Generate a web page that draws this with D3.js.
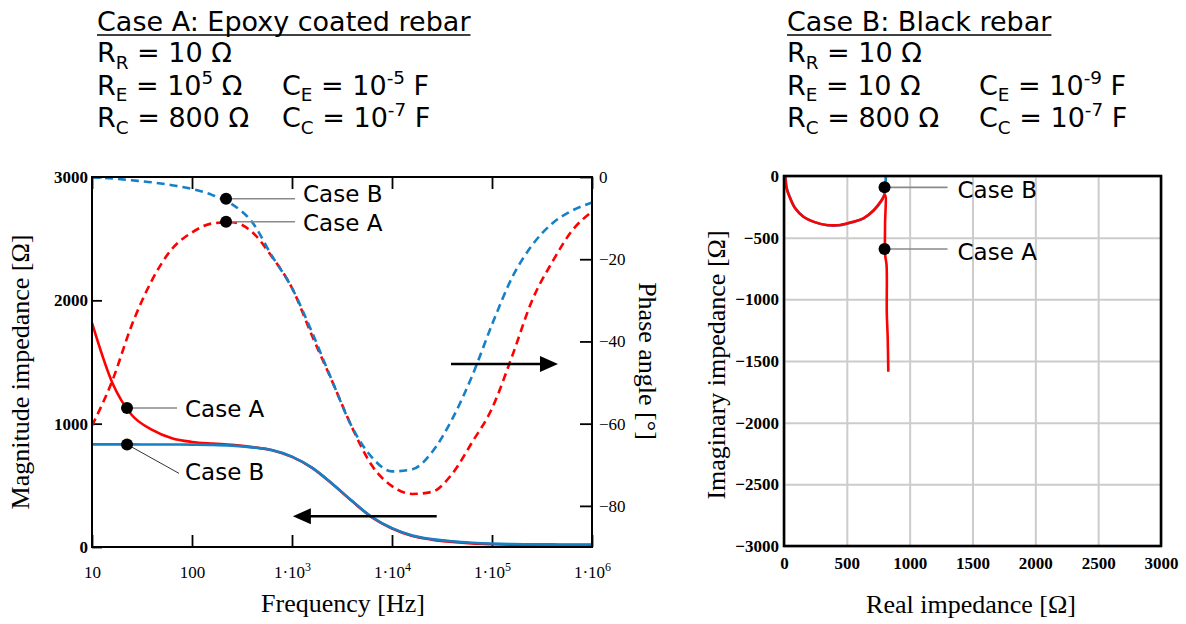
<!DOCTYPE html>
<html>
<head>
<meta charset="utf-8">
<script src="https://cdn.jsdelivr.net/npm/d3@7"></script>
<style>
body { margin: 0; background: #fff; }
</style>
</head>
<body>
<svg width="1186" height="624"></svg>
<script>
const red = "#ff0000";
const blue = "#1580c6";
const serif = "'Liberation Serif', 'Times New Roman', serif";
const sans = "'DejaVu Sans', Verdana, sans-serif";

// header texts
const titles = ["Case A: Epoxy coated rebar", "Case B: Black rebar"];
const paramsA = [
  [[["R"], ["R", "sub"], [" = 10 Ω"]]],
  [[["R"], ["E", "sub"], [" = 10"], ["5", "sup"], [" Ω"]], [["C"], ["E", "sub"], [" = 10"], ["-5", "sup"], [" F"]]],
  [[["R"], ["C", "sub"], [" = 800 Ω"]], [["C"], ["C", "sub"], [" = 10"], ["-7", "sup"], [" F"]]]
];
const paramsB = [
  [[["R"], ["R", "sub"], [" = 10 Ω"]]],
  [[["R"], ["E", "sub"], [" = 10 Ω"]], [["C"], ["E", "sub"], [" = 10"], ["-9", "sup"], [" F"]]],
  [[["R"], ["C", "sub"], [" = 800 Ω"]], [["C"], ["C", "sub"], [" = 10"], ["-7", "sup"], [" F"]]]
];

// Bode data
const freq = [10, 16, 25, 40, 63, 100, 160, 250, 400, 630, 1e3, 1.6e3, 2.5e3, 4e3, 6.3e3,
              1e4, 1.6e4, 2.5e4, 4e4, 6.3e4, 1e5, 1.6e5, 2.5e5, 4e5, 6.3e5, 1e6];
const magA = [1817, 1330, 1070, 950, 882, 852, 838, 828, 810, 785, 731, 640, 515, 370, 240,
              150, 90, 60, 40, 28, 22, 18, 16, 15, 15, 15];
const magB = [832, 832, 832, 831, 831, 830, 828, 822, 808, 786, 733, 642, 517, 372, 243,
              153, 94, 64, 46, 35, 28, 24, 22, 21, 20, 20];
const phaseA = [-60.5, -49.5, -36, -25, -17.5, -13.5, -11.3, -11.0, -13.4, -19.4, -27.0, -38.8, -49.5, -61.0, -70.2,
                -75.2, -77.1, -76.6, -72.2, -64.6, -56.3, -43.4, -30.2, -20.7, -13.1, -8.4];
const phaseB = [-0.1, -0.35, -0.8, -1.3, -2.0, -2.9, -4.4, -6.6, -11.0, -19.2, -27.0, -38.0, -49.4, -60.9, -68.2,
                -71.6, -71.1, -67.0, -58.9, -48.5, -35.9, -24.3, -16.7, -11.3, -8.2, -6.2];
const freqTicks = [10, 100, 1e3, 1e4, 1e5, 1e6];
const magTicks = [0, 1000, 2000, 3000];
const phaseTicks = [0, -20, -40, -60, -80];

// Nyquist data
const reA = [10, 20, 48, 88, 154, 233, 340, 446, 551, 631, 711, 777, 804, 804, 805, 816, 818, 825, 830];
const imA = [0, -100, -181, -262, -330, -370, -397, -397, -370, -343, -280, -195, -154, -400, -640, -720, -1113, -1303, -1587];
const reB = [12, 23, 52, 92, 158, 236, 342, 448, 553, 634, 714, 779, 800, 808, 810];
const imB = [0, -100, -182, -264, -332, -372, -399, -399, -372, -344, -281, -198, -140, -60, 0];
const nyqXTicks = [0, 500, 1000, 1500, 2000, 2500, 3000];
const nyqYTicks = [0, -500, -1000, -1500, -2000, -2500, -3000];

// annotation anchors (data units)
const markFreq = 219;
const markFreqLow = 22.4;
const arrowMag = 250, arrowMagFrom = 28000, arrowMagTo = 1020;
const arrowPh = -45.5, arrowPhFrom = 38900, arrowPhTo = 457000;
const nyqMarkRe = 800, nyqMarkB = -92, nyqMarkA = -592;

const svg = d3.select("svg");
const minus = d => d < 0 ? "−" + (-d) : String(d);

function rich(x, y, parts, size) {
  const t = svg.append("text").attr("x", x).attr("y", y)
    .attr("font-family", sans).attr("font-size", size);
  let shift = 0;
  parts.forEach(([s, k]) => {
    const off = k === "sub" ? 0.25 * size : k === "sup" ? -0.4 * size : 0;
    t.append("tspan").attr("dy", off - shift).attr("font-size", k ? size * 0.68 : size).text(s);
    shift = off;
  });
  return t;
}

function header(x, x2, title, params) {
  const t = rich(x, 31, [[title]], 27);
  const w = t.node().getComputedTextLength();
  svg.append("line").attr("x1", x).attr("x2", x + w).attr("y1", 35).attr("y2", 35)
    .attr("stroke", "#000").attr("stroke-width", 1.6);
  params.forEach((row, i) => {
    const y = 62 + i * 32.5;
    row.forEach((p, j) => rich(j ? x2 : x, y, p, 27));
  });
}
header(97, 282, titles[0], paramsA);
header(787, 979, titles[1], paramsB);

// ---------- Bode plot ----------
const xF = d3.scaleLog().domain([10, 1e6]).range([92, 592]);
const yMag = d3.scaleLinear().domain([0, 3000]).range([547, 177]);
const yPh = d3.scaleLinear().domain([-90, 0]).range([547, 177]);

function styleAxis(g, size, weight) {
  g.select(".domain").remove();
  g.selectAll(".tick line").attr("stroke", "#000").attr("stroke-width", 1.8);
  g.selectAll(".tick text").attr("fill", "#000").attr("font-family", serif)
    .attr("font-size", size).attr("font-weight", weight);
}

const gBottom = svg.append("g").attr("transform", "translate(0,547)")
  .call(d3.axisBottom(xF).tickValues(freqTicks).tickSize(-12).tickPadding(19));
styleAxis(gBottom, 17, "normal");
gBottom.selectAll(".tick text").each(function(d) {
  const t = d3.select(this);
  t.text(null);
  const e = Math.round(Math.log10(d));
  if (e < 3) {
    t.append("tspan").text(String(d));
  } else {
    t.append("tspan").text("1·10");
    t.append("tspan").attr("dy", "-0.55em").attr("font-size", 12).text(e);
  }
});
const gTop = svg.append("g").attr("transform", "translate(0,177)")
  .call(d3.axisTop(xF).tickValues(freqTicks).tickSize(-12).tickFormat(""));
styleAxis(gTop, 17, "normal");
const gLeft = svg.append("g").attr("transform", "translate(92,0)")
  .call(d3.axisLeft(yMag).tickValues(magTicks).tickSize(-10).tickPadding(4).tickFormat(d3.format("d")));
styleAxis(gLeft, 17, "bold");
const gRight = svg.append("g").attr("transform", "translate(592,0)")
  .call(d3.axisRight(yPh).tickValues(phaseTicks).tickSize(-12).tickPadding(7).tickFormat(minus));
styleAxis(gRight, 17, "normal");

const magLine = d3.line().x((d, i) => xF(freq[i])).y(d => yMag(d)).curve(d3.curveMonotoneX);
const phLine = d3.line().x((d, i) => xF(freq[i])).y(d => yPh(d)).curve(d3.curveMonotoneX);

svg.append("path").attr("d", phLine(phaseA)).attr("fill", "none").attr("stroke", red)
  .attr("stroke-width", 2.6).attr("stroke-dasharray", "8,5");
svg.append("path").attr("d", phLine(phaseB)).attr("fill", "none").attr("stroke", blue)
  .attr("stroke-width", 2.6).attr("stroke-dasharray", "8,5");
svg.append("path").attr("d", magLine(magA)).attr("fill", "none").attr("stroke", red).attr("stroke-width", 2.6);
svg.append("path").attr("d", magLine(magB)).attr("fill", "none").attr("stroke", blue).attr("stroke-width", 2.6);

svg.append("rect").attr("x", 92).attr("y", 177).attr("width", 500).attr("height", 370)
  .attr("fill", "none").attr("stroke", "#000").attr("stroke-width", 2);

// arrows
function arrow(x1, x2, y) {
  const dir = Math.sign(x2 - x1);
  svg.append("line").attr("x1", x1).attr("x2", x2 - dir * 14).attr("y1", y).attr("y2", y)
    .attr("stroke", "#000").attr("stroke-width", 2.5);
  svg.append("path")
    .attr("d", `M${x2},${y}L${x2 - dir * 18},${y - 8}L${x2 - dir * 18},${y + 8}Z`)
    .attr("fill", "#000");
}
arrow(xF(arrowMagFrom), xF(arrowMagTo), yMag(arrowMag));
arrow(xF(arrowPhFrom), xF(arrowPhTo), yPh(arrowPh));

// annotations
function label(px, py, lx, ly, tx, ty, text, color, lw) {
  svg.append("line").attr("x1", px).attr("y1", py).attr("x2", lx).attr("y2", ly)
    .attr("stroke", color).attr("stroke-width", lw);
  svg.append("circle").attr("cx", px).attr("cy", py).attr("r", 6).attr("fill", "#000");
  svg.append("text").attr("x", tx).attr("y", ty).attr("font-family", sans)
    .attr("font-size", 23).attr("fill", "#000").text(text);
}
const phBAtMark = -5.3, phAAtMark = -10.9, magAAtMark = 1127, magBAtMark = 832;
let px = xF(markFreq);
label(px, yPh(phBAtMark), px + 69, yPh(phBAtMark), px + 77, yPh(phBAtMark) + 3, "Case B", "#8a8a8a", 1.6);
label(px, yPh(phAAtMark), px + 69, yPh(phAAtMark), px + 77, yPh(phAAtMark) + 9, "Case A", "#8a8a8a", 1.6);
px = xF(markFreqLow);
label(px, yMag(magAAtMark), px + 50, yMag(magAAtMark), px + 58, yMag(magAAtMark) + 9, "Case A", "#8a8a8a", 1.6);
label(px, yMag(magBAtMark), px + 52, yMag(magBAtMark) + 29, px + 58, yMag(magBAtMark) + 36, "Case B", "#333", 1);

// axis titles
svg.append("text").attr("transform", "translate(343,612)").attr("text-anchor", "middle")
  .attr("font-family", serif).attr("font-size", 26).text("Frequency [Hz]");
svg.append("text").attr("transform", "translate(29,372) rotate(-90)").attr("text-anchor", "middle")
  .attr("font-family", serif).attr("font-size", 26).text("Magnitude impedance [Ω]");
svg.append("text").attr("transform", "translate(639,361) rotate(90)").attr("text-anchor", "middle")
  .attr("font-family", serif).attr("font-size", 26).text("Phase angle [°]");

// ---------- Nyquist plot ----------
const xRe = d3.scaleLinear().domain([0, 3000]).range([784, 1161]);
const yIm = d3.scaleLinear().domain([-3000, 0]).range([546, 176]);

const gnx = svg.append("g").attr("transform", "translate(0,546)")
  .call(d3.axisBottom(xRe).tickValues(nyqXTicks).tickSize(-370).tickPadding(11).tickFormat(d3.format("d")));
styleAxis(gnx, 17, "bold");
gnx.selectAll(".tick line").attr("stroke", "#cccccc").attr("stroke-width", 2);
const gny = svg.append("g").attr("transform", "translate(784,0)")
  .call(d3.axisLeft(yIm).tickValues(nyqYTicks).tickSize(-377).tickPadding(5).tickFormat(minus));
styleAxis(gny, 17, "bold");
gny.selectAll(".tick line").attr("stroke", "#cccccc").attr("stroke-width", 2);

const nyqLine = d3.line().x(d => xRe(d[0])).y(d => yIm(d[1])).curve(d3.curveCatmullRom.alpha(0.5));
svg.append("path").attr("d", nyqLine(reB.map((r, i) => [r, imB[i]])))
  .attr("fill", "none").attr("stroke", blue).attr("stroke-width", 2.6);
svg.append("path").attr("d", nyqLine(reA.map((r, i) => [r, imA[i]])))
  .attr("fill", "none").attr("stroke", red).attr("stroke-width", 2.6);

svg.append("rect").attr("x", 784).attr("y", 176).attr("width", 377).attr("height", 370)
  .attr("fill", "none").attr("stroke", "#000").attr("stroke-width", 2.6);

const nx = xRe(nyqMarkRe);
label(nx, yIm(nyqMarkB), nx + 63, yIm(nyqMarkB), nx + 73, yIm(nyqMarkB) + 11, "Case B", "#8a8a8a", 1.6);
label(nx, yIm(nyqMarkA), nx + 63, yIm(nyqMarkA), nx + 73, yIm(nyqMarkA) + 11, "Case A", "#8a8a8a", 1.6);

svg.append("text").attr("transform", "translate(971,613)").attr("text-anchor", "middle")
  .attr("font-family", serif).attr("font-size", 26).text("Real impedance [Ω]");
svg.append("text").attr("transform", "translate(725,365) rotate(-90)").attr("text-anchor", "middle")
  .attr("font-family", serif).attr("font-size", 26).text("Imaginary impedance [Ω]");
</script>
</body>
</html>
